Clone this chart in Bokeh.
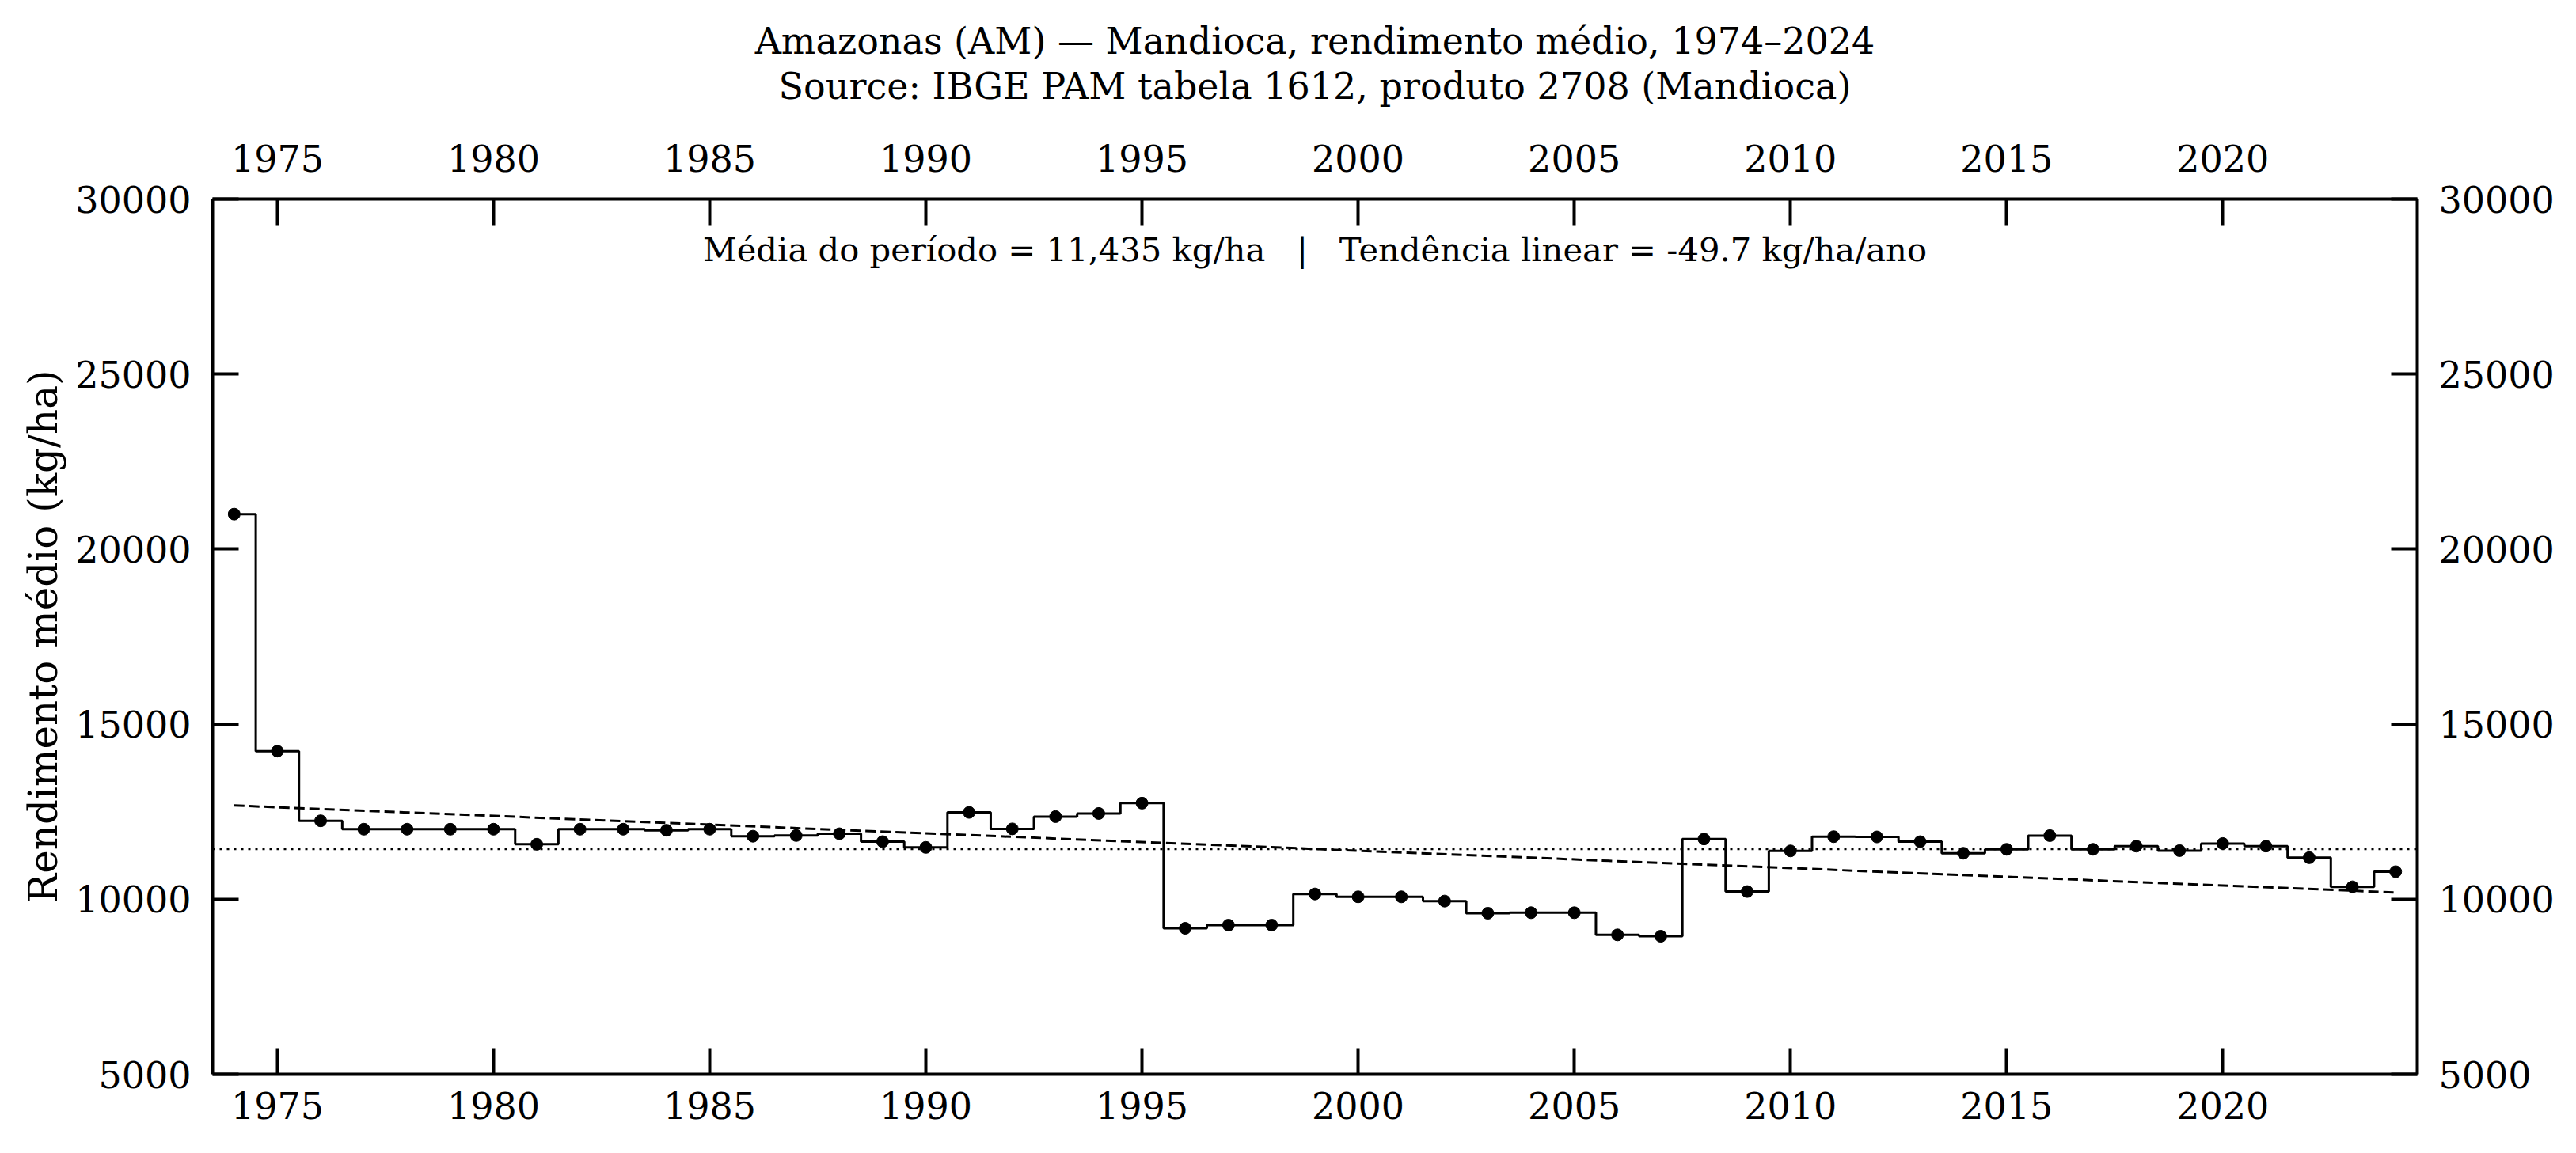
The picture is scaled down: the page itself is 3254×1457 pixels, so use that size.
import numpy as np
from bokeh.plotting import figure
from bokeh.models import (Range1d, LinearAxis, FixedTicker, BasicTickFormatter,
                          Span, Label, Title, ColumnDataSource)
from bokeh.embed import file_html
from bokeh.resources import INLINE

# Amazonas cassava yield (kg/ha), IBGE PAM
years = list(range(1974, 2025))
yield_kg_ha = [
    21000, 14230, 12240, 12000, 12000, 12000, 12000, 11570, 12000, 12000, 11970, 12000,
    11800, 11820, 11870, 11645, 11480, 12480, 12010, 12360, 12450, 12745,
    9170, 9260, 9260, 10150, 10068, 10068, 9947, 9600, 9615, 9615, 8982, 8944,
    11720, 10219, 11380, 11787, 11780, 11644, 11312, 11425, 11817, 11425, 11516,
    11388, 11591, 11516, 11186, 10354, 10787,
]
x_ticks = [1975, 1980, 1985, 1990, 1995, 2000, 2005, 2010, 2015, 2020]
y_ticks = [5000, 10000, 15000, 20000, 25000, 30000]

title_line1 = "Amazonas (AM) \u2014 Mandioca, rendimento m\u00e9dio, 1974\u20132024"
title_line2 = "Source: IBGE PAM tabela 1612, produto 2708 (Mandioca)"
y_label = "Rendimento m\u00e9dio (kg/ha)"

FONT = "DejaVu Serif"
X_MIN, X_MAX = 1973.5, 2024.5
Y_MIN, Y_MAX = 5000, 30000

yrs = np.array(years, dtype=float)
vals = np.array(yield_kg_ha, dtype=float)
mean_val = float(vals.mean())
slope, intercept = np.polyfit(yrs, vals, 1)
trend = slope * yrs + intercept

src = ColumnDataSource(dict(year=years, value=yield_kg_ha))
trend_src = ColumnDataSource(dict(year=[years[0], years[-1]],
                                  value=[trend[0], trend[-1]]))

p = figure(width=3254, height=1457,
           x_range=Range1d(X_MIN, X_MAX), y_range=Range1d(Y_MIN, Y_MAX),
           x_axis_type=None, y_axis_type=None,
           output_backend="svg", toolbar_location=None,
           min_border_left=268, min_border_right=201,
           min_border_top=251, min_border_bottom=100)
p.title.visible = False
p.xgrid.visible = False
p.ygrid.visible = False
p.outline_line_color = None
p.background_fill_color = "white"
p.border_fill_color = "white"

bottom_axis = LinearAxis(ticker=FixedTicker(ticks=x_ticks))
top_axis = LinearAxis(ticker=FixedTicker(ticks=x_ticks))
left_axis = LinearAxis(ticker=FixedTicker(ticks=y_ticks),
                       formatter=BasicTickFormatter(use_scientific=False))
right_axis = LinearAxis(ticker=FixedTicker(ticks=y_ticks),
                        formatter=BasicTickFormatter(use_scientific=False))
p.add_layout(bottom_axis, "below")
p.add_layout(left_axis, "left")
p.add_layout(top_axis, "above")
p.add_layout(right_axis, "right")

for ax in [bottom_axis, top_axis, left_axis, right_axis]:
    ax.axis_line_width = 4
    ax.axis_line_color = "black"
    ax.major_tick_in = 33
    ax.major_tick_out = 0
    ax.major_tick_line_width = 4
    ax.major_tick_line_color = "black"
    ax.minor_tick_line_color = None
    ax.major_label_standoff = 27
    ax.major_label_text_font = FONT
    ax.major_label_text_font_size = "46px"
    ax.major_label_text_color = "black"
top_axis.major_label_standoff = 35
bottom_axis.major_label_standoff = 22

# heading: source line sits on the top axis, main line as the title above it
top_axis.axis_label = title_line2
top_axis.axis_label_text_font = FONT
top_axis.axis_label_text_font_size = "46px"
top_axis.axis_label_text_font_style = "normal"
top_axis.axis_label_text_color = "black"
top_axis.axis_label_standoff = 44
p.add_layout(Title(text=title_line1, align="center", text_font=FONT,
                   text_font_size="46px", text_font_style="normal",
                   text_color="black", standoff=0), "above")

left_axis.axis_label = y_label
left_axis.axis_label_text_font = FONT
left_axis.axis_label_text_font_size = "50px"
left_axis.axis_label_text_font_style = "normal"
left_axis.axis_label_text_color = "black"
left_axis.axis_label_standoff = 8

# period mean (dotted) and linear trend (dashed)
p.add_layout(Span(location=mean_val, dimension="width", line_color="black",
                  line_width=3, line_dash="3 6"))
p.line("year", "value", source=trend_src, line_color="black",
       line_width=3, line_dash="13 6")

# yearly yield as a centred step with point markers
p.step("year", "value", source=src, mode="center",
       line_color="black", line_width=3)
p.scatter("year", "value", source=src, size=15,
          fill_color="black", line_color="black")

x_mid = (X_MIN + X_MAX) / 2
sep = " \u00a0 | \u00a0 "
summary = (f"M\u00e9dia do per\u00edodo = {mean_val:,.0f} kg/ha{sep}"
           f"Tend\u00eancia linear = {slope:.1f} kg/ha/ano")
p.add_layout(Label(x=x_mid, y=28550, text=summary, text_align="center",
                   text_baseline="middle", text_font=FONT,
                   text_font_size="41.7px", text_color="black"))

open("out.html", "w").write(file_html(p, INLINE))
